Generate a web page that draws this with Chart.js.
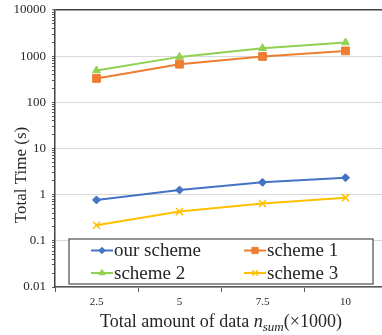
<!DOCTYPE html>
<html>
<head>
<meta charset="utf-8">
<script src="https://cdn.jsdelivr.net/npm/chart.js@4.4.0/dist/chart.umd.min.js"></script>
<style>
  html, body { margin: 0; padding: 0; background: #fff; overflow: hidden; }
  #wrap { position: relative; width: 400px; height: 335px; }
</style>
</head>
<body>
<div id="wrap"><canvas id="chart"></canvas></div>
<script>
const CATEGORIES = ['2.5', '5', '7.5', '10'];
const OUR_SCHEME = [0.77, 1.26, 1.85, 2.33];
const SCHEME_1 = [329, 670, 985, 1300];
const SCHEME_2 = [490, 965, 1490, 1980];
const SCHEME_3 = [0.218, 0.43, 0.64, 0.86];
const Y_MAJOR = [0.01, 0.1, 1, 10, 100, 1000, 10000];
const Y_TICK_LABELS = ['0.01', '0.1', '1', '10', '100', '1000', '10000'];

const SERIF = "'Liberation Serif', 'Times New Roman', serif";
const TEXT = '#262626';

// x title with italic n and subscript "sum"
const axisTitles = {
  id: 'axisTitles',
  afterDraw(chart) {
    const ctx = chart.ctx;
    const area = chart.chartArea;
    ctx.save();
    ctx.fillStyle = TEXT;
    ctx.textBaseline = 'alphabetic';

    // y title
    ctx.save();
    ctx.translate(26, 175);
    ctx.rotate(-Math.PI / 2);
    ctx.font = '17px ' + SERIF;
    ctx.textAlign = 'center';
    ctx.fillText('Total Time (s)', 0, 0);
    ctx.restore();

    // x title
    const parts = [
      { t: 'Total amount of data ', f: '18px ' + SERIF, dy: 0 },
      { t: 'n', f: 'italic 18px ' + SERIF, dy: 0 },
      { t: 'sum', f: 'italic 13px ' + SERIF, dy: 4 },
      { t: '(\u00d71000)', f: '18px ' + SERIF, dy: 0 }
    ];
    let total = 0;
    parts.forEach(p => { ctx.font = p.f; p.w = ctx.measureText(p.t).width; total += p.w; });
    let x = (area.left + area.right) / 2 - total / 2;
    const base = 327;
    ctx.textAlign = 'left';
    parts.forEach(p => {
      ctx.font = p.f;
      ctx.fillText(p.t, x, base + p.dy);
      x += p.w;
    });
    ctx.restore();
  }
};

function drawMarker(ctx, ds, x, y, r) {
  const opts = {
    pointStyle: ds.pointStyle, radius: r, rotation: 0,
    borderWidth: ds.pointBorderWidth || 1
  };
  ctx.fillStyle = ds.backgroundColor;
  ctx.strokeStyle = ds.borderColor;
  ctx.lineWidth = opts.borderWidth;
  Chart.helpers.drawPoint(ctx, opts, x, y);
}

// boxed legend inside the plot
const boxLegend = {
  id: 'boxLegend',
  afterDatasetsDraw(chart) {
    const ctx = chart.ctx;
    const box = { x: 69, y: 239, w: 304, h: 45 };
    const rows = [250.5, 273];
    const cols = [91, 244];
    ctx.save();
    ctx.fillStyle = '#fff';
    ctx.fillRect(box.x, box.y, box.w, box.h);
    ctx.strokeStyle = '#595959';
    ctx.lineWidth = 1.3;
    ctx.strokeRect(box.x, box.y, box.w, box.h);
    chart.data.datasets.forEach((ds, i) => {
      const cx = cols[i % 2];
      const cy = rows[Math.floor(i / 2)];
      ctx.strokeStyle = ds.borderColor;
      ctx.lineWidth = 2;
      ctx.beginPath();
      ctx.moveTo(cx, cy);
      ctx.lineTo(cx + 22, cy);
      ctx.stroke();
      drawMarker(ctx, ds, cx + 11, cy, ds.pointRadius * 0.8);
      ctx.fillStyle = TEXT;
      ctx.font = '19px ' + SERIF;
      ctx.textAlign = 'left';
      ctx.textBaseline = 'middle';
      ctx.fillText(ds.label, cx + 23, cy + 1);
    });
    ctx.restore();
  }
};

function series(label, data, color, style, radius, bw) {
  return {
    label, data,
    borderColor: color, backgroundColor: color,
    pointBackgroundColor: color, pointBorderColor: color,
    pointStyle: style, pointRadius: radius, pointHoverRadius: radius,
    pointBorderWidth: bw, borderWidth: 2, tension: 0
  };
}

new Chart(document.getElementById('chart'), {
  type: 'line',
  data: {
    labels: CATEGORIES,
    datasets: [
      series('our scheme', OUR_SCHEME, '#4472C4', 'rectRot', 4, 1),
      series('scheme 1', SCHEME_1, '#ED7D31', 'rect', 5.5, 1),
      series('scheme 2', SCHEME_2, '#92D050', 'triangle', 4.5, 1),
      series('scheme 3', SCHEME_3, '#FFC000', 'crossRot', 5, 1.5)
    ]
  },
  options: {
    responsive: true,
    maintainAspectRatio: false,
    animation: false,
    layout: { padding: { top: 10, right: 13, left: 0, bottom: 0 } },
    plugins: { legend: { display: false }, tooltip: { enabled: false } },
    scales: {
      x: {
        type: 'category',
        offset: true,
        afterFit(scale) { scale.height = 48; scale.paddingLeft = 0; scale.paddingRight = 0; },
        grid: {
          offset: true,
          drawOnChartArea: false,
          drawTicks: true,
          tickLength: 5,
          tickColor: '#595959',
          tickWidth: 1
        },
        border: { color: '#595959', width: 1.5 },
        ticks: {
          color: TEXT,
          padding: 4,
          maxRotation: 0,
          font: { family: SERIF, size: 11 }
        }
      },
      y: {
        type: 'logarithmic',
        min: 0.01,
        max: 10000,
        afterFit(scale) { scale.width = 55; scale.paddingTop = 0; scale.paddingBottom = 0; },
        afterBuildTicks(scale) {
          const ticks = [];
          Y_MAJOR.forEach((v, i) => {
            ticks.push({ value: v, major: true });
            if (i < Y_MAJOR.length - 1) {
              for (let m = 2; m <= 9; m++) ticks.push({ value: v * m, major: false });
            }
          });
          scale.ticks = ticks;
        },
        grid: {
          color: c => {
            if (!c.tick || !c.tick.major) return 'rgba(0,0,0,0)';
            return c.tick.value === 10000 ? '#404040' : '#d9d9d9';
          },
          lineWidth: c => (c.tick && c.tick.value === 10000 ? 1.5 : 1),
          tickColor: '#595959',
          tickLength: c => (c.tick && c.tick.major ? 5 : 3),
          tickWidth: 1
        },
        border: { color: '#404040', width: 1.5 },
        ticks: {
          autoSkip: false,
          color: TEXT,
          padding: 6,
          font: { family: SERIF, size: 13 },
          callback: (value) => {
            const i = Y_MAJOR.indexOf(value);
            return i >= 0 ? Y_TICK_LABELS[i] : '';
          }
        }
      }
    }
  },
  plugins: [boxLegend, axisTitles]
});
</script>
</body>
</html>
